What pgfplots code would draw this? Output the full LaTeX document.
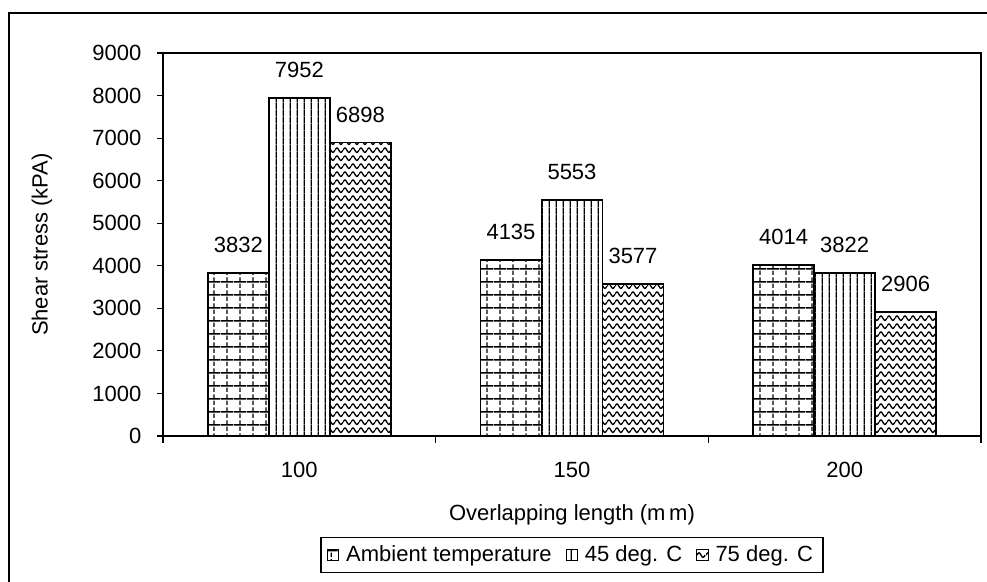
\documentclass[border=0pt]{standalone}
\usepackage{fontspec}
\setmainfont{Liberation Sans}
\usepackage{pgfplots}
\pgfplotsset{compat=1.18}
\usetikzlibrary{patterns.meta}

\tikzdeclarepattern{
  name=mywave, type=uncolored,
  bounding box={(0,0) and (4.2pt,3.9pt)},
  tile size={(4.2pt,3.9pt)},
  code={\draw[line width=0.7pt] (0,1.95pt) sin (1.05pt,3.1pt) cos (2.1pt,1.95pt) sin (3.15pt,0.8pt) cos (4.2pt,1.95pt);}
}
\tikzdeclarepattern{
  name=myvert, type=uncolored,
  bounding box={(0,0) and (3.6pt,3.6pt)},
  tile size={(3.6pt,3.6pt)},
  code={\draw[line width=0.7pt] (1.8pt,-0.1pt) -- (1.8pt,3.7pt);}
}
\tikzdeclarepattern{
  name=mygrid, type=uncolored,
  bounding box={(0,0) and (6.5pt,6.3pt)},
  tile size={(6.5pt,6.3pt)},
  code={\draw[line width=0.8pt] (-0.1pt,3.15pt) -- (6.6pt,3.15pt);
        \draw[line width=0.6pt] (3.25pt,0pt) -- (3.25pt,2.2pt) (3.25pt,3pt) -- (3.25pt,5.5pt);}
}

\pgfplotstableread{
x amb d45 d75
0 3832 7952 6898
1 4135 5553 3577
2 4014 3822 2906
}\datatable

\begin{document}
\begin{tikzpicture}
\fontsize{11}{13}\selectfont
\begin{axis}[
  at={(81.5pt,73pt)}, anchor=south west,
  scale only axis, width=409pt, height=191.5pt,
  xmin=-0.5, xmax=2.5, ymin=0, ymax=9000,
  axis line style={line width=0.75pt},
  tick pos=left, tick align=outside,
  tick style={black, line width=0.6pt},
  major tick length=3pt, minor tick length=3.5pt,
  xtick={0,1,2}, xticklabels={100,150,200},
  major x tick style={draw=none},
  minor xtick={-0.5,0.5,1.5,2.5},
  ytick={0,1000,...,9000},
  /pgf/number format/assume math mode=true,
  /pgf/number format/set thousands separator={},
  ticklabel style={font=\fontsize{11}{13}\selectfont},
  yticklabel style={xshift=-4pt},
  xticklabel style={yshift=-6pt},
  xlabel={Overlapping length (m\,m)},
  ylabel={Shear stress (kPA)},
  label style={font=\fontsize{11}{13}\selectfont},
  xlabel style={at={([yshift=-39.5pt]axis description cs:0.5,0)}, anchor=center},
  ylabel style={at={([xshift=-60.5pt]axis description cs:0,0.5)}, anchor=center},
  ybar=0pt, bar width=30.5pt,
  nodes near coords,
  every node near coord/.append style={font=\fontsize{11}{13}\selectfont, black, yshift=6pt,
    /pgf/number format/assume math mode=true, /pgf/number format/set thousands separator={}},
  legend columns=3,
  legend style={at={([yshift=-59.5pt]axis description cs:0.5,0)}, anchor=center,
    draw=black, line width=0.6pt, font=\fontsize{11}{13}\selectfont,
    inner xsep=3pt, inner ysep=2pt,
    /tikz/every odd column/.append style={column sep=1.5pt},
    /tikz/every even column/.append style={column sep=5pt}},
  legend image code/.code={\draw[#1, line width=0.5pt] (0pt,-2.8pt) rectangle (5.6pt,2.8pt);},
]
\addplot[draw=black, line width=0.9pt, pattern=mygrid, pattern color=black] table[x=x,y=amb]{\datatable};
\addplot[draw=black, line width=0.9pt, pattern=myvert, pattern color=black] table[x=x,y=d45]{\datatable};
\addplot[draw=black, line width=0.9pt, pattern=mywave, pattern color=black] table[x=x,y=d75]{\datatable};
\legend{Ambient temperature, 45 deg. C, 75 deg. C}
\end{axis}
\draw[line width=0.7pt] (4.5pt,0pt) -- (4.5pt,284.5pt) -- (493.5pt,284.5pt);
\pgfresetboundingbox
\useasboundingbox (0,0) rectangle (493.5pt,291pt);
\end{tikzpicture}
\end{document}
